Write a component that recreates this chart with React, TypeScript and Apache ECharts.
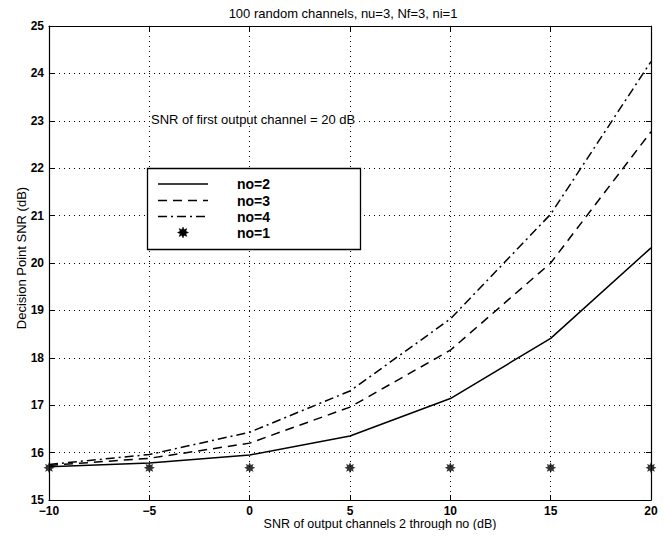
import React, { useEffect, useRef } from "react";
import * as echarts from "echarts";

// ---- data ----
const xValues = [-10, -5, 0, 5, 10, 15, 20];
const no2Values = [15.7, 15.78, 15.95, 16.35, 17.14, 18.41, 20.32];
const no3Values = [15.73, 15.88, 16.2, 16.96, 18.16, 20.0, 22.77];
const no4Values = [15.75, 15.96, 16.43, 17.3, 18.82, 21.03, 24.25];
const no1Values = [15.68, 15.68, 15.68, 15.68, 15.68, 15.68, 15.68];

const titleText = "100 random channels, nu=3, Nf=3, ni=1";
const xName = "SNR of output channels 2 through no (dB)";
const yName = "Decision Point SNR (dB)";
const noteText = "SNR of first output channel = 20 dB";
const legendNames = ["no=2", "no=3", "no=4", "no=1"];

const FONT = "Liberation Sans";

function starPoints(cx: number, cy: number, R: number, r: number): number[][] {
  const pts: number[][] = [];
  for (let i = 0; i < 16; i++) {
    const a = (i * Math.PI) / 8 - Math.PI / 2;
    const rr = i % 2 === 0 ? R : r;
    pts.push([cx + rr * Math.cos(a), cy + rr * Math.sin(a)]);
  }
  return pts;
}

const starSymbol =
  "path://" +
  starPoints(10, 10, 10, 5.5)
    .map((p, i) => (i === 0 ? "M" : "L") + p[0].toFixed(3) + " " + p[1].toFixed(3))
    .join(" ") +
  " Z";

const pair = (vals: number[]) => xValues.map((x, i) => [x, vals[i]]);
const minusFmt = (v: number) => String(v).replace("-", "\u2212");

export default function App() {
  const ref = useRef<HTMLDivElement>(null);

  useEffect(() => {
    if (!ref.current) return;
    const chart = echarts.init(ref.current, undefined, { renderer: "svg" });

    const axisCommon = {
      type: "value" as const,
      axisLine: { show: true, onZero: false, lineStyle: { color: "#000", width: 1.2 } },
      axisTick: { show: true, inside: true, length: 5, lineStyle: { color: "#000", width: 1 } },
    };

    const legX1 = 158;
    const legX2 = 208;
    const legTextX = 237;
    const legY = [184, 200.5, 216.5, 232.5];
    const dashes = [null, [9, 6], [9, 4, 2, 4]];

    const legendGraphics: any[] = [
      {
        type: "rect",
        shape: { x: 147.5, y: 168.5, width: 213, height: 81 },
        style: { fill: "#fff", stroke: "#000", lineWidth: 1.3 },
        z: 100,
      },
    ];
    for (let i = 0; i < 3; i++) {
      legendGraphics.push({
        type: "line",
        shape: { x1: legX1, y1: legY[i], x2: legX2, y2: legY[i] },
        style: { stroke: "#000", lineWidth: 1.5, lineDash: dashes[i] || undefined },
        z: 101,
      });
    }
    legendGraphics.push({
      type: "polygon",
      shape: { points: starPoints(183, legY[3], 5.5, 3) },
      style: { fill: "#000", stroke: "#000", lineWidth: 0.5 },
      z: 101,
    });
    legendNames.forEach((n, i) => {
      legendGraphics.push({
        type: "text",
        x: legTextX,
        y: legY[i],
        style: {
          text: n,
          fill: "#000",
          fontFamily: FONT,
          fontSize: 14,
          fontWeight: "bold",
          textAlign: "left",
          textVerticalAlign: "middle",
        },
        z: 101,
      });
    });

    const textStyle = (size: number) => ({
      fill: "#000",
      fontFamily: FONT,
      fontSize: size,
      fontWeight: "normal",
    });

    const option: any = {
      animation: false,
      backgroundColor: "#fff",
      grid: { left: 49, right: 15, top: 26, bottom: 38, containLabel: false },
      xAxis: [
        {
          ...axisCommon,
          position: "bottom",
          min: -10,
          max: 20,
          interval: 5,
          axisLabel: {
            color: "#000",
            fontSize: 12,
            fontWeight: "bold",
            fontFamily: FONT,
            margin: 5,
            formatter: minusFmt,
          },
          splitLine: { show: true, lineStyle: { color: "#000", width: 1, type: [1, 4] } },
        },
        {
          ...axisCommon,
          position: "top",
          min: -10,
          max: 20,
          interval: 5,
          axisLabel: { show: false },
          splitLine: { show: false },
        },
      ],
      yAxis: [
        {
          ...axisCommon,
          position: "left",
          min: 15,
          max: 25,
          interval: 1,
          axisLabel: {
            color: "#000",
            fontSize: 12,
            fontWeight: "bold",
            fontFamily: FONT,
            margin: 5,
          },
          splitLine: { show: true, lineStyle: { color: "#000", width: 1, type: [1, 4] } },
        },
        {
          ...axisCommon,
          position: "right",
          min: 15,
          max: 25,
          interval: 1,
          axisLabel: { show: false },
          splitLine: { show: false },
        },
      ],
      series: [
        {
          name: legendNames[0],
          type: "line",
          data: pair(no2Values),
          symbol: "none",
          lineStyle: { color: "#000", width: 1.5, type: "solid" },
          z: 5,
        },
        {
          name: legendNames[1],
          type: "line",
          data: pair(no3Values),
          symbol: "none",
          lineStyle: { color: "#000", width: 1.5, type: [9, 6] },
          z: 5,
        },
        {
          name: legendNames[2],
          type: "line",
          data: pair(no4Values),
          symbol: "none",
          lineStyle: { color: "#000", width: 1.5, type: [9, 4, 2, 4] },
          z: 5,
        },
        {
          name: legendNames[3],
          type: "scatter",
          data: pair(no1Values),
          symbol: starSymbol,
          symbolSize: 11,
          clip: false,
          itemStyle: { color: "#000" },
          z: 6,
        },
      ],
      graphic: [
        {
          type: "text",
          x: 343,
          y: 13,
          style: {
            ...textStyle(13),
            text: titleText,
            textAlign: "center",
            textVerticalAlign: "middle",
          },
        },
        {
          type: "text",
          x: 380,
          y: 524,
          style: {
            ...textStyle(12.5),
            text: xName,
            textAlign: "center",
            textVerticalAlign: "middle",
          },
        },
        {
          type: "text",
          x: 21,
          y: 258,
          rotation: Math.PI / 2,
          style: {
            ...textStyle(13),
            text: yName,
            textAlign: "center",
            textVerticalAlign: "middle",
          },
        },
        {
          type: "text",
          x: 151,
          y: 119,
          style: {
            ...textStyle(13),
            text: noteText,
            textAlign: "left",
            textVerticalAlign: "middle",
            backgroundColor: "#fff",
          },
          z: 50,
        },
        ...legendGraphics,
      ],
    };

    chart.setOption(option);
    return () => chart.dispose();
  }, []);

  return <div ref={ref} style={{ width: 666, height: 538, margin: -8 }} />;
}
